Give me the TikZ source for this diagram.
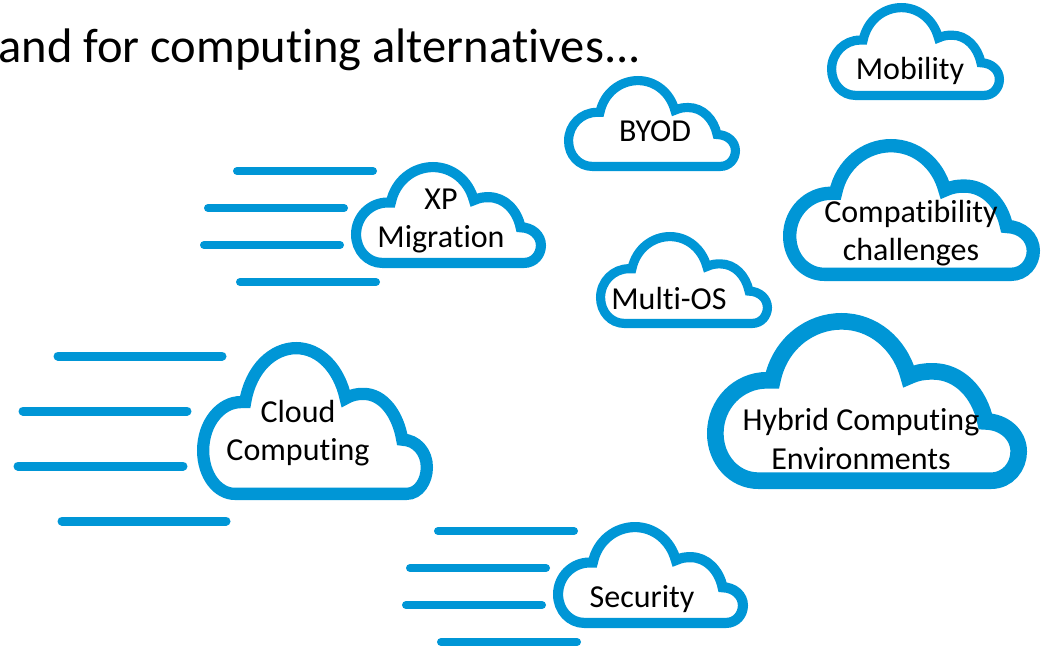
\documentclass[tikz,border=0pt]{standalone}
\usepackage{fontspec}
\setmainfont{Carlito}[Ligatures=CommonOff]
\definecolor{hpblue}{HTML}{0096D6}
\newcommand{\cloudshape}[5]{%
  \pgfmathsetmacro{\cw}{#4-#2}\pgfmathsetmacro{\ch}{#5-#3}%
  \pgfmathsetmacro{\lw}{0.052*\cw}%
  \pgfmathsetmacro{\bw}{\cw-\lw}\pgfmathsetmacro{\bh}{\ch-\lw}%
  \pgfmathsetmacro{\ox}{#2+\lw/2}\pgfmathsetmacro{\oy}{#5-\lw/2}%
  \draw[cloudline,line width=\lw pt,shift={(\ox,\oy)},x=\bw pt,y=\bh pt]
    (0.142,0) .. controls (0.063,0) and (0,0.131) .. (0,0.297)
    .. controls (0,0.484) and (0.077,0.63) .. (0.17,0.63) -- (0.188,0.63)
    .. controls (0.213,0.861) and (0.312,1) .. (0.416,1)
    .. controls (0.52,1) and (0.608,0.861) .. (0.637,0.655)
    .. controls (0.668,0.682) and (0.69,0.686) .. (0.717,0.686)
    .. controls (0.805,0.686) and (0.871,0.547) .. (0.89,0.372)
    .. controls (0.953,0.37) and (1,0.287) .. (1,0.183)
    .. controls (1,0.089) and (0.964,0) .. (0.909,0) -- cycle;
}
\tikzset{
  cloudline/.style={draw=hpblue,fill=white,line join=miter},
  speedline/.style={draw=hpblue,line cap=round},
  cloudtext/.style={text=black,font=\fontsize{32}{38.5}\selectfont,align=center,inner sep=0pt},
  titletext/.style={text=black,font=\fontsize{48.5}{52}\selectfont,anchor=base east,inner sep=0pt}
}
\begin{document}
\begin{tikzpicture}[x=1pt,y=-1pt]
\useasboundingbox (0,0) rectangle (1042,648);
\clip (0,0) rectangle (1042,648);
\node[titletext] (title) at (641,62) {and for computing alternatives...};
\foreach \ya/\xa/\xb in {171/237/373,208/208/344,245/204/340,282/240/376,531/438/574,568/410/546,605/406/542,642/441/577}
  \draw[speedline,line width=8pt] (\xa,\ya) -- (\xb,\ya);
\foreach \ya/\xa/\xb in {356/58/222,411/23/187,466/18/183,521/62/226}
  \draw[speedline,line width=9pt] (\xa,\ya) -- (\xb,\ya);
\cloudshape{mobility}{827}{3}{1004}{100}
\cloudshape{byod}{564}{76}{740}{171}
\cloudshape{xp}{351}{162}{546}{268}
\cloudshape{compat}{783}{139}{1040}{281}
\cloudshape{multi}{596}{232}{772}{328}
\cloudshape{hybrid}{707}{313}{1027}{489}
\cloudshape{cloud}{197}{342}{433}{500}
\cloudshape{security}{553}{522}{748}{628}
\node[cloudtext] (tmobility) at (910,71) {Mobility};
\node[cloudtext] (tbyod) at (655,131) {BYOD};
\node[cloudtext] (txp) at (441,221) {XP\\Migration};
\node[cloudtext] (tcompat) at (911,233) {Compatibility\\challenges};
\node[cloudtext] (tmulti) at (669,299) {Multi-OS};
\node[cloudtext] (thybrid) at (861,439) {Hybrid Computing\\Environments};
\node[cloudtext] (tcloud) at (298,433) {Cloud\\Computing};
\node[cloudtext] (tsecurity) at (642,599) {Security};
\end{tikzpicture}
\end{document}
